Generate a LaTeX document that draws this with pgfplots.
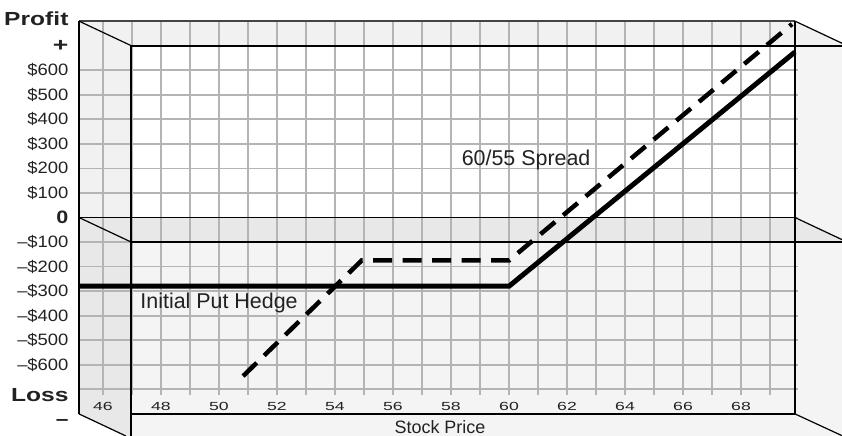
\documentclass[border=0pt]{standalone}
\usepackage{fontspec}
\setmainfont{Liberation Sans}
\usepackage{graphicx}
\usepackage{pgfplots}
\pgfplotsset{compat=1.18}

\definecolor{floorgray}{HTML}{F4F4F4}
\definecolor{ceilgray}{HTML}{F1F1F1}
\definecolor{bandgray}{HTML}{E8E8E8}
\definecolor{gridgray}{HTML}{B4B4B4}
\definecolor{inkgray}{HTML}{222222}
\definecolor{edgegray}{HTML}{444444}

\newcommand{\fsz}[1]{\fontsize{#1}{#1}\selectfont}
\newcommand{\ytl}[1]{\scalebox{1.12}[1]{\fsz{16.5}#1}}
\newcommand{\xtl}[1]{\scalebox{1.5}[1]{\fsz{11.8}#1}}
\newcommand{\sidelab}[1]{\scalebox{1.3}[1]{\fsz{19}\bfseries #1}}

% box geometry (stock price units / dollars)
\def\xL{45.17}   % back wall, left edge
\def\xR{69.86}   % back wall, right edge
\def\xF{46.97}   % front frame, left edge
\def\xE{71.483}  % right border of the drawing

\begin{document}
\begin{tikzpicture}
\begin{axis}[
  hide axis, scale only axis,
  width=842bp, height=436bp,
  xmin=42.4483, xmax=71.483,
  ymin=-890.02, ymax=885.95,
  clip=false,
]
% --- walls of the box
\fill[floorgray] (axis cs:\xL,800) -- (axis cs:\xR,800) -- (axis cs:\xE,709.8)
   -- (axis cs:\xE,-890.02) -- (axis cs:46.79,-890.02) -- (axis cs:\xL,-800) -- cycle;
\fill[ceilgray] (axis cs:\xL,800) -- (axis cs:\xR,800) -- (axis cs:\xE,709.8)
   -- (axis cs:\xE,700) -- (axis cs:\xF,700) -- cycle;
\fill[ceilgray] (axis cs:\xL,800) -- (axis cs:\xF,700) -- (axis cs:\xF,0) -- (axis cs:\xL,0) -- cycle;
\fill[white] (axis cs:\xF,700) rectangle (axis cs:\xR,0);
\fill[bandgray] (axis cs:\xL,0) -- (axis cs:\xR,0) -- (axis cs:\xE,-90.2)
   -- (axis cs:\xE,-100) -- (axis cs:\xF,-100) -- cycle;
\fill[bandgray] (axis cs:\xL,0) -- (axis cs:\xF,-100) -- (axis cs:\xF,-890.02)
   -- (axis cs:46.79,-890.02) -- (axis cs:\xL,-800) -- cycle;

% --- grid on the back wall
\pgfplotsinvokeforeach{46,...,69}{
  \draw[gridgray, line width=1.7bp] (axis cs:#1,800) -- (axis cs:#1,-725);
}
\pgfplotsinvokeforeach{-700,-600,...,600}{
  \draw[gridgray, line width=1.7bp] (axis cs:\xL,#1) -- (axis cs:69.95,#1);
}

% --- edges of the box
\draw[edgegray, line width=2bp] (axis cs:\xL,800) -- (axis cs:\xR,800);
\draw[black, line width=1.2bp] (axis cs:\xL,800) -- (axis cs:\xL,-800);
\draw[black, line width=1.2bp] (axis cs:\xL,800) -- (axis cs:\xF,700);
\draw[black, line width=1.2bp] (axis cs:\xR,800) -- (axis cs:\xE,709.8);
\draw[black, line width=1.7bp] (axis cs:\xR,800) -- (axis cs:\xR,-800);
\draw[black, line width=2.2bp] (axis cs:\xF,700) -- (axis cs:\xE,700);
\draw[black, line width=2bp] (axis cs:\xF,700) -- (axis cs:\xF,-890.02);
\draw[black, line width=1.7bp] (axis cs:\xL,0) -- (axis cs:\xR,0);
\draw[black, line width=1.2bp] (axis cs:\xL,0) -- (axis cs:\xF,-100);
\draw[black, line width=1.2bp] (axis cs:\xR,0) -- (axis cs:\xE,-90.2);
\draw[black, line width=1.7bp] (axis cs:\xF,-100) -- (axis cs:\xE,-100);
\draw[black, line width=1.5bp] (axis cs:\xF,-800) -- (axis cs:\xR,-800);
\draw[black, line width=1.2bp] (axis cs:\xL,-800) -- (axis cs:46.79,-890.02);
\draw[black, line width=1.2bp] (axis cs:\xR,-800) -- (axis cs:\xE,-888.7);

% --- profit/loss profiles
\addplot[black, line width=5bp] coordinates {
  (45.17,-280) (60,-280) (69.86,674)
};
\addplot[black, line width=4.5bp, dash pattern=on 19bp off 10.5bp] coordinates {
  (50.83,-646) (54.92,-175) (60,-175) (69.76,788)
};

% --- annotations
\node[inkgray] at (axis cs:60.59,234) {\fsz{21.5}60/55 Spread};
\node[inkgray, anchor=west] at (axis cs:47.17,-348) {\fsz{21.5}Initial Put Hedge};

% --- vertical scale
\pgfplotsinvokeforeach{100,200,...,600}{
  \node[inkgray, anchor=east] at (axis cs:44.93,#1) {\ytl{\$#1}};
  \node[inkgray, anchor=east] at (axis cs:44.93,-#1) {\ytl{–\$#1}};
}
\node[inkgray, anchor=east] at (axis cs:44.93,0) {\scalebox{1.2}[1]{\fsz{18}\bfseries 0}};
\node[inkgray, anchor=east] at (axis cs:44.93,700) {\scalebox{1.4}[1]{\fsz{19}\bfseries +}};
\node[inkgray, anchor=east] at (axis cs:44.93,811) {\sidelab{Profit}};
\node[inkgray, anchor=east] at (axis cs:44.93,-725) {\sidelab{Loss}};
\node[inkgray, anchor=east] at (axis cs:44.93,-836) {\scalebox{1.2}[1]{\fsz{19}\bfseries –}};

% --- horizontal scale
\pgfplotsinvokeforeach{46,48,...,68}{
  \node[inkgray] at (axis cs:#1,-768) {\xtl{#1}};
}
\node[inkgray, inner sep=0pt] at (axis cs:57.62,-852) {\fsz{18}Stock Price};
\end{axis}
\pgfresetboundingbox
\useasboundingbox (current axis.south west) rectangle (current axis.north east);
\end{tikzpicture}
\end{document}
